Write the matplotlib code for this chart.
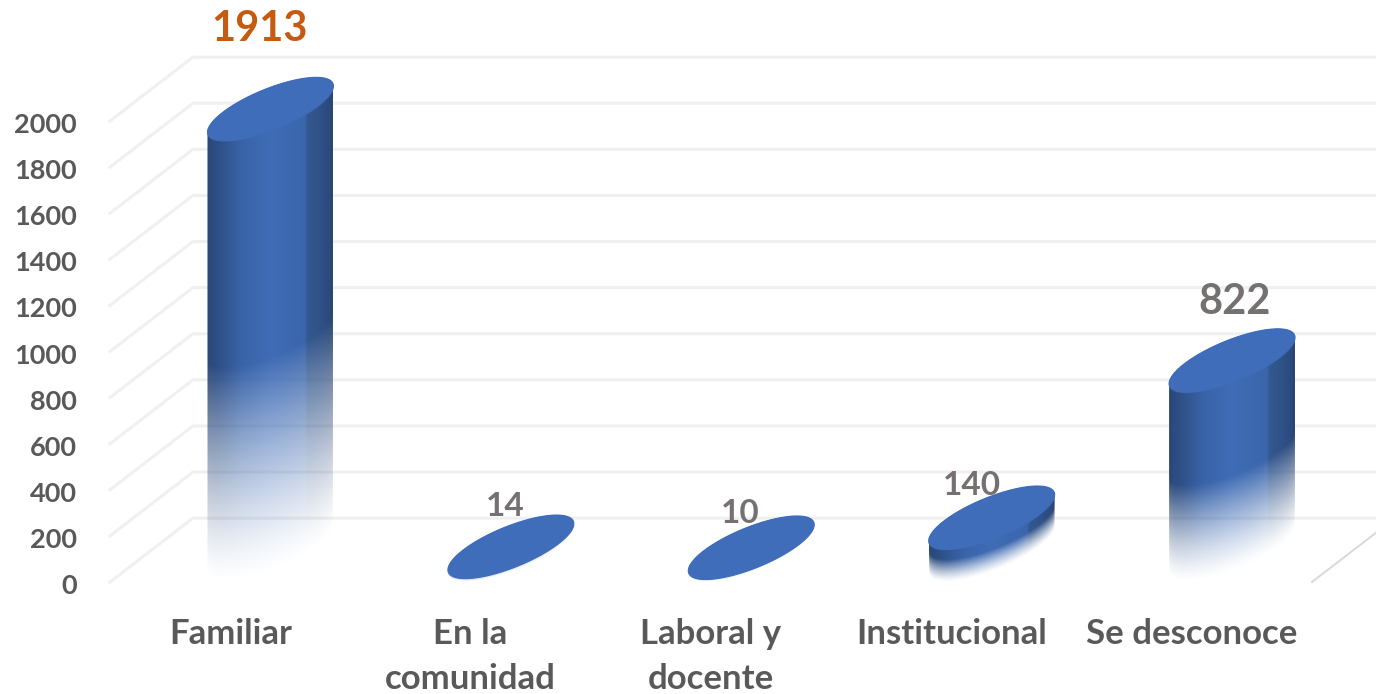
import numpy as np
import matplotlib
matplotlib.use('Agg')
import matplotlib.pyplot as plt
from matplotlib.colors import to_rgb
from matplotlib.patches import Polygon
from matplotlib.transforms import ScaledTranslation

categories = ['Familiar', 'En la\ncomunidad', 'Laboral y\ndocente', 'Institucional', 'Se desconoce']
values = [1913, 14, 10, 140, 822]
y_ticks = [0, 200, 400, 600, 800, 1000, 1200, 1400, 1600, 1800, 2000]

# offset of each value label from its category/value point, in pixels
label_offsets = [(29, 112), (35, 72), (29, 66), (21, 64), (43, 91)]
label_sizes = [30, 24, 24, 24, 30]
label_colors = ['#C55A11', '#767171', '#767171', '#767171', '#767171']

plt.rcParams['font.family'] = ['Lato', 'DejaVu Sans']
plt.rcParams['font.weight'] = 'bold'

# 3d look of the plot box
depth_x = 0.345
depth_y = 277
half_w = 0.262
tilt = 100
bulge = 95
fade_part = 0.47

u_stops = [-1.0, -0.8, -0.45, 0.0, 0.55, 0.6, 0.85, 1.0]
shade_stops = ['#2a4877', '#2f5189', '#3a64a8', '#3f6cb6', '#3b66ac', '#33598f', '#2e4f85', '#2a4572']
shade_rgb = np.array([to_rgb(c) for c in shade_stops])


def ellipse(cx, cy, t):
    return cx + half_w * np.cos(t), cy + tilt * np.cos(t) + bulge * np.sin(t)


def draw_cylinder(ax, fig, x, value):
    cx = x + depth_x / 2 - 0.005
    base = depth_y / 2
    top = base + value

    # outline: lower arc of the base, then upper arc of the top
    bx, by = ellipse(cx, base, np.linspace(np.pi, 2 * np.pi, 80))
    tx, ty = ellipse(cx, top, np.linspace(0, np.pi, 80))
    body = Polygon(np.column_stack([np.r_[bx, tx], np.r_[by, ty]]), closed=True,
                   transform=ax.transData, fc='none', ec='none')
    ax.add_patch(body)

    # side shading, fading out towards the lower arc of the base
    y_lo, y_hi = base - tilt - bulge, top + tilt + bulge
    uu, vv = np.meshgrid(np.linspace(-1, 1, 300), np.linspace(y_lo, y_hi, 500))
    rgba = np.zeros(uu.shape + (4,))
    for c in range(3):
        rgba[..., c] = np.interp(uu, u_stops, shade_rgb[:, c])
    height = vv - (base + tilt * uu - bulge * np.sqrt(1 - uu ** 2))
    rgba[..., 3] = np.clip(height / (value * fade_part + 30), 0, 1) ** 1.3
    im = ax.imshow(rgba, extent=[cx - half_w, cx + half_w, y_lo, y_hi], origin='lower',
                   aspect='auto', interpolation='bilinear', zorder=3)
    im.set_clip_path(body)
    im.set_clip_box(fig.bbox)

    # top cap
    cap_x, cap_y = ellipse(cx, top, np.linspace(0, 2 * np.pi, 160))
    ax.fill(cap_x, cap_y, color='#3F6DBA', lw=0.8, zorder=4, clip_on=False)


fig = plt.figure(figsize=(13.76, 6.94), dpi=100)
ax = fig.add_axes([110 / 1376, 112 / 694, 1202 / 1376, 461 / 694])

# walls: floor edge on the right, grid on back wall and left wall
for v in y_ticks:
    ax.plot([-0.5, -0.5 + depth_x, 4.5 + depth_x], [v, v + depth_y, v + depth_y],
            color='#F0F0F0', lw=2.2, zorder=1, clip_on=False, solid_joinstyle='miter')
ax.plot([4.5, 4.5 + depth_x], [0, depth_y], color='#D9D9D9', lw=1.4, zorder=1, clip_on=False)

for i, v in enumerate(values):
    draw_cylinder(ax, fig, i, v)

for i, v in enumerate(values):
    ax.annotate(str(v), xy=(i, v), xytext=label_offsets[i], textcoords='offset pixels',
                ha='center', va='center', fontsize=label_sizes[i], color=label_colors[i],
                fontweight='bold', zorder=6, annotation_clip=False)

ax.set_xlim(-0.5, 4.5)
ax.set_ylim(0, 2000)
ax.set_xticks(range(len(categories)))
ax.set_xticklabels(categories, fontsize=25, color='#595959', fontweight='bold', linespacing=1.5)
ax.set_yticks(y_ticks)
ax.set_yticklabels([str(t) for t in y_ticks], fontsize=19.5, color='#595959', fontweight='bold',
                   va='center_baseline')
ax.tick_params(axis='x', length=0, pad=26)
ax.tick_params(axis='y', length=0, pad=24)
for label in ax.get_yticklabels():
    label.set_transform(label.get_transform() + ScaledTranslation(0, -1.5 / 72, fig.dpi_scale_trans))
for spine in ax.spines.values():
    spine.set_visible(False)
ax.patch.set_visible(False)

fig.savefig('out.png', dpi=100)
